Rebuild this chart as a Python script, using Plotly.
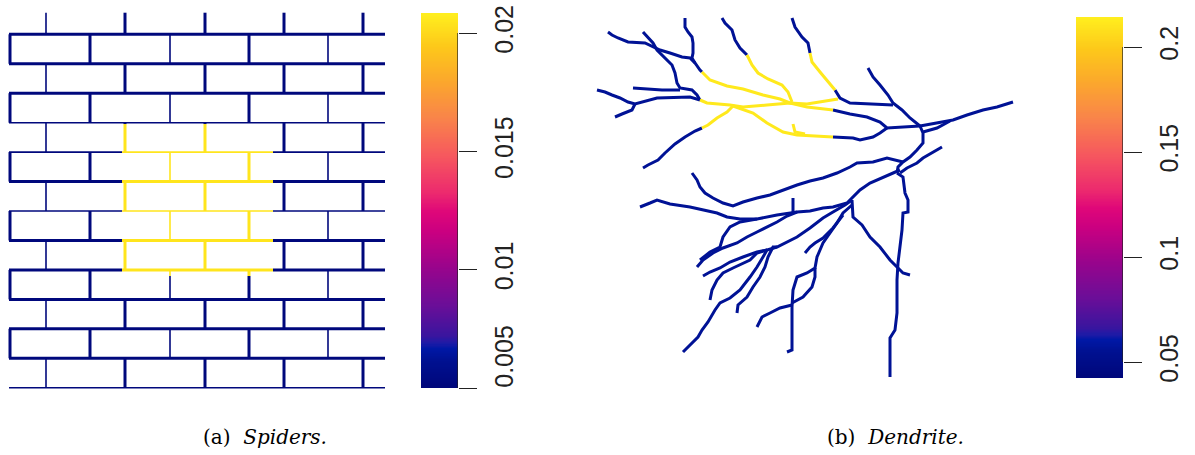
import numpy as np
import plotly.graph_objects as go
from plotly.colors import sample_colorscale

# ------------------------------------------------------------------ data
# (a) Spiders: brick-mortar network
MORTAR_Y = [34.3, 63.8, 93.2, 122.7, 152.1, 181.6, 211.0, 240.5, 269.9, 299.4, 328.8, 358.3, 387.7]
TOP_EDGE_Y = 12.7
MORTAR_X_RANGE = [9, 385]
JOINT_X_A = [10, 90, 170, 249, 328]
JOINT_X_B = [46, 125, 205, 284, 363]
SPIDER_LOW = 0.0051
SPIDER_HIGH = 0.0205
HOT_X = [122, 273]
HOT_Y = [124, 276]
SPIDER_CRANGE = [0.005, 0.02085]
SPIDER_TICKS = [0.005, 0.01, 0.015, 0.02]
SPIDER_TICKTEXT = ["0.005", "0.01", "0.015", "0.02"]

# (b) Dendrite: branches (network coordinates) and their values
D_LOW = 0.056
D_HIGH = 0.212
DENDRITE_CRANGE = [0.0424, 0.2143]
DENDRITE_TICKS = [0.05, 0.1, 0.15, 0.2]
DENDRITE_TICKTEXT = ["0.05", "0.1", "0.15", "0.2"]

BRANCHES_LOW = [
    [(608,32),(612,35),(618,38),(628,42),(645,43),(653,47),(660,50),(670,53),(682,57),(690,58),(695,63),(700,70),(702,72)],
    [(643,32),(648,37),(653,43),(657,50),(662,55),(667,60),(672,65),(675,73),(677,83),(680,88),(692,90),(697,95),(700,100)],
    [(685,18),(685,27),(688,32),(692,37),(693,43),(693,53),(692,58),(695,63)],
    [(597,90),(605,92),(612,95),(620,98),(628,102),(635,104),(657,98),(677,97),(690,97),(700,100)],
    [(635,104),(632,110),(622,114),(615,117)],
    [(633,88),(650,89),(662,90),(680,90)],
    [(722,18),(725,23),(732,30),(735,40),(740,48),(747,55)],
    [(792,18),(795,27),(802,37),(808,43),(810,53)],
    [(835,90),(840,98),(850,103),(893,105)],
    [(868,68),(873,77),(880,85),(888,95),(893,103),(902,110),(910,118),(920,126)],
    [(833,110),(850,114),(867,117),(880,122),(887,128),(905,127),(920,126)],
    [(833,137),(853,138),(860,140),(873,137),(880,133),(887,128)],
    [(702,128),(695,131),(685,137),(675,144),(665,153),(658,160),(648,165),(643,168)],
    [(920,126),(937,123),(953,120),(967,115),(983,110),(997,107),(1013,102)],
    [(923,132),(937,128),(950,121)],
    [(920,126),(923,133),(923,143),(917,150),(910,157),(903,162),(898,167),(897,173)],
    [(942,147),(933,152),(923,158),(917,163),(907,168),(900,173)],
    [(903,162),(887,158),(873,162),(857,163),(850,167),(837,173),(823,178),(810,181),(797,185),(783,190),(770,195),(757,198),(743,202),(733,206),(723,203),(713,198),(705,193),(700,187),(697,180),(692,173)],
    [(897,173),(903,177),(905,193),(908,200),(908,212),(903,213),(902,230),(900,247),(898,263),(897,280),(897,297),(897,313),(895,330),(890,338),(890,377)],
    [(900,170),(883,177),(870,183),(860,190),(853,197),(847,203),(833,207),(823,208),(810,211),(797,212),(777,215),(757,219),(740,219),(727,217),(717,213),(703,210),(690,207),(670,204),(657,200),(650,203),(640,207)],
    [(793,198),(793,213)],
    [(852,200),(853,217),(862,225),(870,237),(880,247),(890,260),(897,267),(903,273),(910,275)],
    [(683,352),(692,343),(698,337),(702,330),(708,322),(715,310),(720,303),(730,298),(740,290),(750,277),(757,267),(763,257),(767,250),(777,247),(787,242),(797,237),(810,228),(823,218),(833,212),(845,205),(852,200)],
    [(710,300),(712,290),(717,280),(723,273),(733,268),(743,263),(750,260),(757,253),(767,250)],
    [(737,313),(738,305),(747,297),(753,287),(760,277),(765,267),(768,257),(773,247),(777,247)],
    [(757,327),(762,317),(770,313),(780,308),(792,305)],
    [(787,352),(792,350),(792,307),(793,290),(797,277),(807,273),(815,268),(817,257),(820,250),(823,243),(830,233),(837,223),(843,213),(852,205)],
    [(792,303),(803,297),(812,287),(815,277),(815,268)],
    [(697,267),(703,260),(713,253),(723,248),(737,243),(747,237),(757,232),(767,227),(777,222),(787,216),(797,212)],
    [(703,276),(710,272),(720,268),(730,262),(743,257),(757,252),(767,250)],
    [(805,253),(810,247),(815,243),(823,238),(833,228),(843,215)],
    [(700,260),(710,252),(720,247),(723,237),(730,227),(740,222),(757,219)],
]
BRANCHES_HIGH = [
    [(702,72),(710,80),(727,86),(743,89),(763,95),(780,99),(790,103)],
    [(747,55),(752,65),(758,73),(768,79),(782,85),(788,92),(792,102)],
    [(810,53),(812,62),(820,72),(828,82),(835,90)],
    [(700,100),(707,103),(730,105),(743,107),(767,105),(790,103),(807,104),(838,99)],
    [(790,103),(807,107),(833,110)],
    [(733,106),(753,113),(767,123),(783,132),(797,135),(833,137)],
    [(793,124),(795,132),(805,134)],
    [(733,106),(727,112),(717,118),(708,125),(702,128)],
]

# ------------------------------------------------------------------ style
COLORSCALE = [
    [0.00, "#00077A"], [0.07, "#00108F"], [0.105, "#0018A5"], [0.12, "#1E1AA6"],
    [0.14, "#3A159E"], [0.22, "#6A0E98"], [0.32, "#98048C"], [0.42, "#CC0080"],
    [0.47, "#DF0779"], [0.52, "#EC2A6E"], [0.62, "#F6585E"], [0.72, "#F9844A"],
    [0.82, "#FBA82C"], [0.91, "#FDC81A"], [1.00, "#FFEF1E"],
]
THICK, THIN = 3.0, 1.6
H_WIDTHS = [THICK, THICK, THICK, THIN, THIN, THICK, THIN, THICK, THICK, THICK, THICK, THICK, THIN]
VA_WIDTHS = [THICK, THICK, THIN, THICK, THIN]
VB_WIDTHS = [THIN, THICK, THICK, THICK, THICK]
DENDRITE_WIDTH = 3.0
W, H = 1195, 455
NBSP = "\u00a0"


def color_of(v, crange):
    t = (v - crange[0]) / (crange[1] - crange[0])
    t = min(max(t, 0.0), 1.0)
    return sample_colorscale(COLORSCALE, [t])[0]


groups = {}


def add_seg(xs, ys, value, width, crange):
    key = (value, width, tuple(crange))
    g = groups.setdefault(key, ([], []))
    g[0].extend(list(xs) + [None])
    g[1].extend(list(ys) + [None])


# spiders: horizontal mortar lines
x0, x1 = MORTAR_X_RANGE
for y, w in zip(MORTAR_Y, H_WIDTHS):
    if HOT_Y[0] < y < HOT_Y[1]:
        add_seg([x0, HOT_X[0]], [y, y], SPIDER_LOW, w, SPIDER_CRANGE)
        add_seg([HOT_X[0], HOT_X[1]], [y, y], SPIDER_HIGH, w, SPIDER_CRANGE)
        add_seg([HOT_X[1], x1], [y, y], SPIDER_LOW, w, SPIDER_CRANGE)
    else:
        add_seg([x0, x1], [y, y], SPIDER_LOW, w, SPIDER_CRANGE)

# spiders: vertical joints per row
row_edges = [TOP_EDGE_Y] + MORTAR_Y
for r in range(len(MORTAR_Y)):
    ya, yb = row_edges[r], row_edges[r + 1]
    if r % 2 == 0:
        joints, widths = JOINT_X_B, VB_WIDTHS
    else:
        joints, widths = JOINT_X_A, VA_WIDTHS
    for x, w in zip(joints, widths):
        if HOT_X[0] <= x <= HOT_X[1]:
            lo, hi = max(ya, HOT_Y[0]), min(yb, HOT_Y[1])
            if lo < hi:
                if ya < lo:
                    add_seg([x, x], [ya, lo], SPIDER_LOW, w, SPIDER_CRANGE)
                add_seg([x, x], [lo, hi], SPIDER_HIGH, w, SPIDER_CRANGE)
                if hi < yb:
                    add_seg([x, x], [hi, yb], SPIDER_LOW, w, SPIDER_CRANGE)
                continue
        add_seg([x, x], [ya, yb], SPIDER_LOW, w, SPIDER_CRANGE)

# dendrite
for br in BRANCHES_LOW:
    add_seg([p[0] for p in br], [p[1] for p in br], D_LOW, DENDRITE_WIDTH, DENDRITE_CRANGE)
for br in BRANCHES_HIGH:
    add_seg([p[0] for p in br], [p[1] for p in br], D_HIGH, DENDRITE_WIDTH, DENDRITE_CRANGE)

fig = go.Figure()
for key in sorted(groups.keys(), key=lambda k: ((k[0] - k[2][0]) / (k[2][1] - k[2][0]), k[1])):
    value, width, crange = key
    xs, ys = groups[key]
    fig.add_trace(go.Scatter(x=xs, y=ys, mode="lines",
                             line=dict(color=color_of(value, crange), width=width),
                             hoverinfo="skip", showlegend=False, xaxis="x", yaxis="y"))


def add_colorbar(crange, ticks, ticktext, xdom_px, ydom_px, ax):
    n = 300
    dy = (crange[1] - crange[0]) / n
    zs = [crange[0] + dy * (i + 0.5) for i in range(n)]
    fig.add_trace(go.Heatmap(z=[[v] for v in zs], x0=0.5, dx=1, y0=zs[0], dy=dy,
                             colorscale=COLORSCALE, zmin=crange[0], zmax=crange[1],
                             showscale=False, hoverinfo="skip",
                             xaxis="x" + ax, yaxis="y" + ax))
    fig.add_trace(go.Scatter(x=[1, 1], y=[ticks[0], ticks[-1]], mode="lines",
                             line=dict(color="#222222", width=1.3), cliponaxis=False,
                             hoverinfo="skip", showlegend=False,
                             xaxis="x" + ax, yaxis="y" + ax))
    fig.update_layout(**{
        "xaxis" + ax: dict(domain=[xdom_px[0] / W, xdom_px[1] / W], range=[0, 1],
                           visible=False, anchor="y" + ax, fixedrange=True, automargin=False),
        "yaxis" + ax: dict(domain=[(H - ydom_px[1]) / H, (H - ydom_px[0]) / H],
                           range=crange, anchor="x" + ax, side="right",
                           tickmode="array", tickvals=ticks, ticktext=ticktext,
                           ticks="outside", ticklen=18, tickwidth=1.3, tickcolor="#222222",
                           tickangle=-90, showgrid=False, zeroline=False, showline=False,
                           ticklabelstandoff=6, automargin=False, fixedrange=True,
                           tickfont=dict(family="Liberation Sans, Arial", size=25, color="#222222")),
    })


# the lowest spider label sits inside the bar's extent (shifted up like the original)
spider_text = [NBSP * 8 + SPIDER_TICKTEXT[0]] + SPIDER_TICKTEXT[1:]
add_colorbar(SPIDER_CRANGE, SPIDER_TICKS, spider_text, (421, 458), (13, 388), "2")
add_colorbar(DENDRITE_CRANGE, DENDRITE_TICKS, DENDRITE_TICKTEXT, (1076, 1123), (17, 378), "3")

fig.update_layout(
    width=W, height=H, autosize=False,
    margin=dict(l=0, r=0, t=0, b=0, pad=0, autoexpand=False),
    paper_bgcolor="white", plot_bgcolor="white",
    showlegend=False,
    xaxis=dict(domain=[0, 1], range=[0, W], visible=False, fixedrange=True, automargin=False),
    yaxis=dict(domain=[0, 1], range=[H, 0], visible=False, fixedrange=True, automargin=False),
    annotations=[
        dict(text="(a)  <i>Spiders.</i>", x=265 / W, y=(H - 437) / H, xref="paper", yref="paper",
             showarrow=False, xanchor="center", yanchor="middle",
             font=dict(family="DejaVu Serif", size=20, color="black")),
        dict(text="(b)  <i>Dendrite.</i>", x=895 / W, y=(H - 437) / H, xref="paper", yref="paper",
             showarrow=False, xanchor="center", yanchor="middle",
             font=dict(family="DejaVu Serif", size=20, color="black")),
    ],
)

fig.write_html("out.html")
